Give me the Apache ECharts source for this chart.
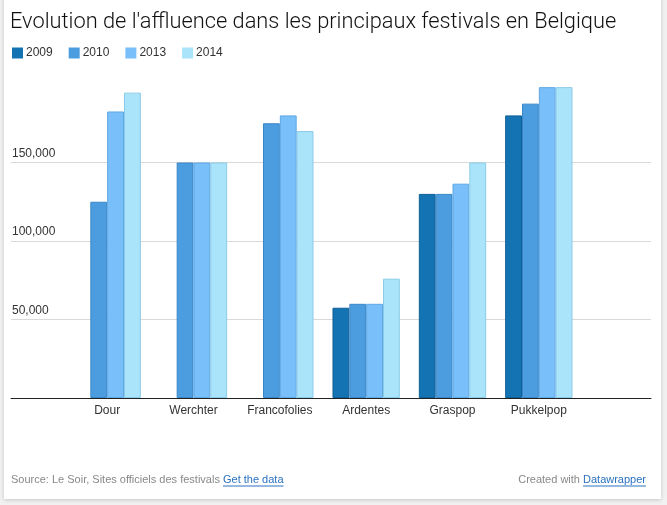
<!DOCTYPE html>
<html>
<head>
<meta charset="utf-8">
<script src="https://cdn.jsdelivr.net/npm/echarts@6/dist/echarts.min.js"></script>
<style>
html,body{margin:0;padding:0;width:667px;height:505px;background:#f1f1f1;overflow:hidden;}
#card{position:absolute;left:4px;top:-4px;width:657px;height:503px;background:#fff;box-shadow:0 1px 4px rgba(0,0,0,0.18);}
#chart{position:absolute;left:0;top:0;width:667px;height:505px;}
</style>
</head>
<body>
<div id="card"></div>
<div id="chart"></div>
<script>
const categories = ['Dour', 'Werchter', 'Francofolies', 'Ardentes', 'Graspop', 'Pukkelpop'];
const years = ['2009', '2010', '2013', '2014'];
const v2009 = [null, null, null, 57500, 130000, 180000];
const v2010 = [125000, 150000, 175000, 60000, 130000, 187500];
const v2013 = [182500, 150000, 180000, 60000, 136500, 198000];
const v2014 = [194500, 150000, 170000, 76000, 150000, 198000];
const yTickValues = [50000, 100000, 150000];
const titleText = "Evolution de l'affluence dans les principaux festivals en Belgique";
const sourceText = 'Source: Le Soir, Sites officiels des festivals ';
const dataLinkText = 'Get the data';
const creditText = 'Created with ';
const creditLinkText = 'Datawrapper';

const seriesValues = [v2009, v2010, v2013, v2014];
const fills = ['#1473b3', '#4b9de0', '#79bff9', '#a9e4fb'];
const borders = ['#0e5f96', '#3a87c8', '#5ea8e4', '#8ccbe8'];
const FONT = '"Liberation Sans", Arial, sans-serif';

function textWidth(str, font) {
  const c = document.createElement('canvas').getContext('2d');
  c.font = font;
  return c.measureText(str).width;
}

const chart = echarts.init(document.getElementById('chart'), null, {renderer: 'canvas'});

const footFont = '11px ' + FONT;
const srcW = textWidth(sourceText, footFont);
const linkW = textWidth(dataLinkText, footFont);
const credW = textWidth(creditText, footFont);
const credLinkW = textWidth(creditLinkText, footFont);
const rightEnd = 646;
const footY = 480;

const option = {
  animation: false,
  textStyle: {fontFamily: FONT},
  title: {
    text: titleText,
    left: 10, top: 12, padding: 0,
    textStyle: {fontFamily: 'Roboto, ' + FONT, fontWeight: 300, fontSize: 21.8, color: '#111'}
  },
  legend: {
    data: years,
    left: 12, top: 47, padding: 0,
    icon: 'rect',
    itemWidth: 11, itemHeight: 11,
    itemGap: 16,
    itemStyle: {borderWidth: 0},
    textStyle: {fontSize: 12, color: '#333', padding: [0, 0, 0, -2]}
  },
  grid: [
    {left: 11, right: 16, top: 84, bottom: 107},
    {left: 64, right: 85, top: 84, bottom: 107}
  ],
  xAxis: [
    {gridIndex: 0, type: 'category', data: [''],
     axisLine: {show: true, lineStyle: {color: '#222', width: 1}},
     axisTick: {show: false}, axisLabel: {show: false}},
    {gridIndex: 1, type: 'category', data: categories,
     axisLine: {show: false}, axisTick: {show: false},
     axisLabel: {color: '#333', fontSize: 12, margin: 7}}
  ],
  yAxis: [
    {gridIndex: 0, type: 'value', min: 0, max: 200000, interval: 50000,
     axisLine: {show: false}, axisTick: {show: false},
     splitLine: {show: true, showMinLine: false, showMaxLine: false, lineStyle: {color: '#d9d9d9', width: 1}},
     axisLabel: {inside: true, margin: 1, verticalAlign: 'bottom', padding: [0, 0, 3, 0],
       color: '#333', fontSize: 12, showMinLabel: false, showMaxLabel: false,
       formatter: v => yTickValues.includes(v) ? v.toLocaleString('en-US') : ''}},
    {gridIndex: 1, type: 'value', min: 0, max: 200000, show: false, splitLine: {show: false}}
  ],
  series: years.map((y, i) => ({
    name: y, type: 'bar', xAxisIndex: 1, yAxisIndex: 1,
    data: seriesValues[i],
    barGap: 0, barCategoryGap: '22%',
    itemStyle: {color: fills[i], borderColor: borders[i], borderWidth: 1}
  })),
  graphic: [
    {type: 'text', left: 11, top: footY - 6,
     style: {text: sourceText, font: footFont, fill: '#888'}},
    {type: 'text', left: 11 + srcW, top: footY - 6,
     style: {text: dataLinkText, font: footFont, fill: '#2a72c0'}},
    {type: 'line', shape: {x1: 11 + srcW, y1: footY + 6, x2: 11 + srcW + linkW, y2: footY + 6},
     style: {stroke: '#2a72c0', lineWidth: 1}},
    {type: 'text', left: rightEnd - credLinkW - credW, top: footY - 6,
     style: {text: creditText, font: footFont, fill: '#888'}},
    {type: 'text', left: rightEnd - credLinkW, top: footY - 6,
     style: {text: creditLinkText, font: footFont, fill: '#2a72c0'}},
    {type: 'line', shape: {x1: rightEnd - credLinkW, y1: footY + 6, x2: rightEnd, y2: footY + 6},
     style: {stroke: '#2a72c0', lineWidth: 1}}
  ]
};
chart.setOption(option);
</script>
</body>
</html>
